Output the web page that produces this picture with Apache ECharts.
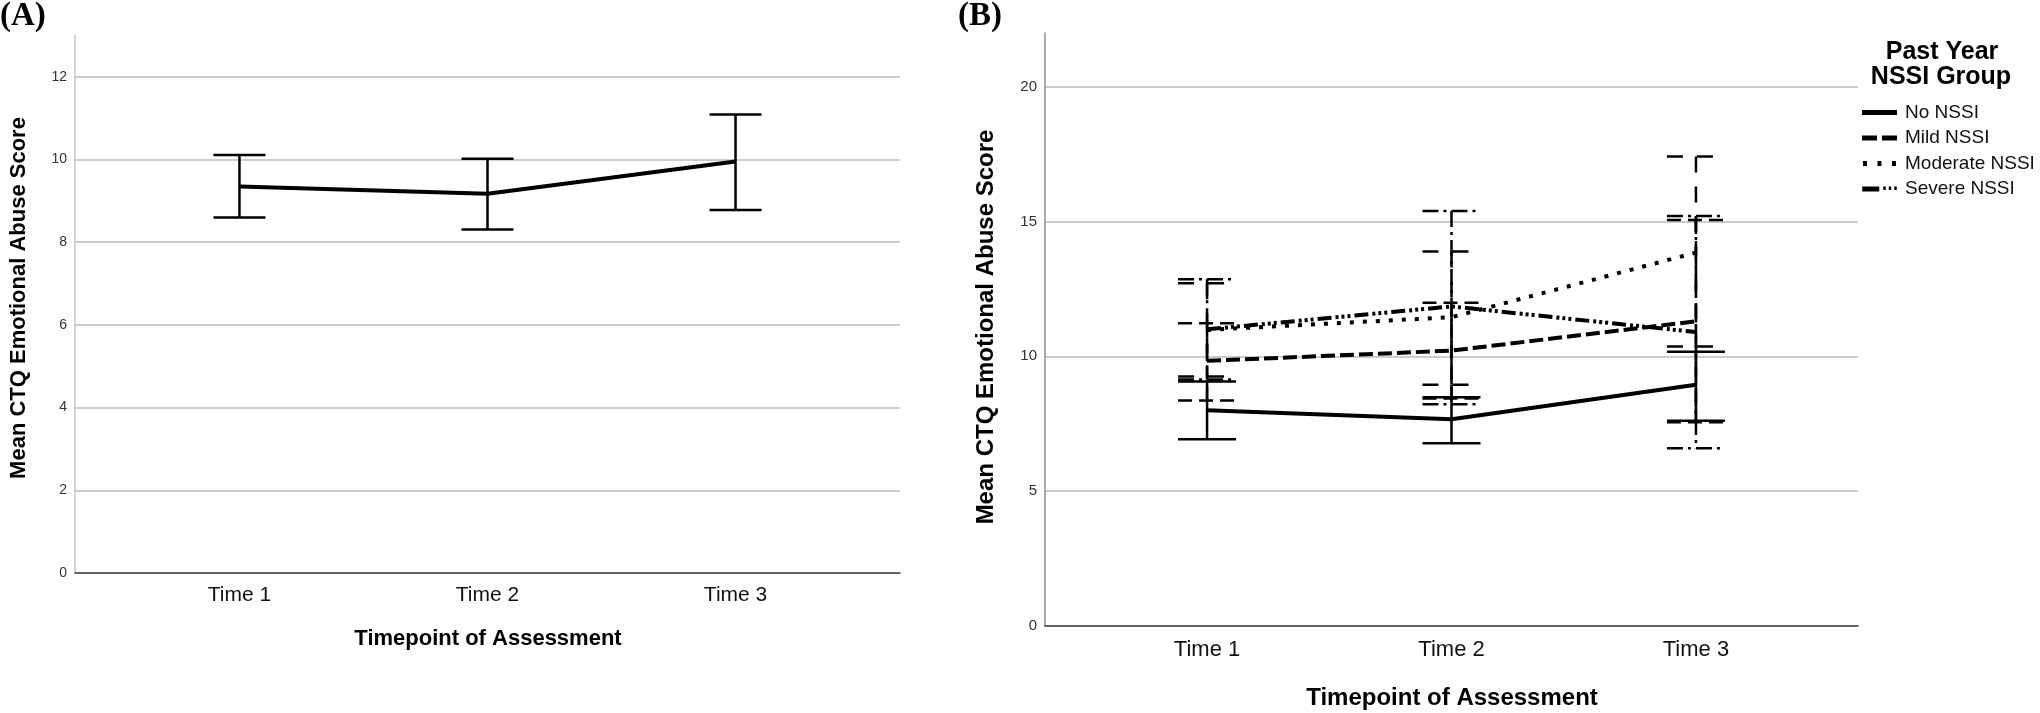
<!DOCTYPE html>
<html>
<head>
<meta charset="utf-8">
<script src="https://cdn.jsdelivr.net/npm/echarts@6/dist/echarts.min.js"></script>
<style>html,body{margin:0;padding:0;background:#fff}#c{width:2040px;height:713px}</style>
</head>
<body>
<div id="c"></div>
<script>
// ---- data ----
const timeLabels = ['Time 1', 'Time 2', 'Time 3'];
const timeX = [1, 2, 3];
const aYTicks = [0, 2, 4, 6, 8, 10, 12];
const bYTicks = [0, 5, 10, 15, 20];

// Panel A: overall mean and CI
const aMean = [9.35, 9.17, 9.95];
const aLow = [8.60, 8.31, 8.78];
const aHigh = [10.11, 10.02, 11.09];

// Panel B: by Past Year NSSI Group
const groups = ['No NSSI', 'Mild NSSI', 'Moderate NSSI', 'Severe NSSI'];
const noMean = [8.00, 7.66, 8.94];
const noLow = [6.92, 6.77, 7.61];
const noHigh = [9.06, 8.48, 10.17];
const mildMean = [9.83, 10.21, 11.30];
const mildLow = [8.36, 8.43, 7.55];
const mildHigh = [11.23, 11.99, 15.06];
const modMean = [10.98, 11.45, 13.85];
const modLow = [9.25, 8.94, 10.36];
const modHigh = [12.71, 13.89, 17.42];
const sevMean = [11.00, 11.85, 10.90];
const sevLow = [9.14, 8.22, 6.59];
const sevHigh = [12.86, 15.39, 15.21];

// ---- styles ----
const FONT = "'Liberation Sans', Arial, sans-serif";
const lineDash = {
  'No NSSI': 'solid',
  'Mild NSSI': [14, 5],
  'Moderate NSSI': [4, 9],
  'Severe NSSI': [14, 4, 3, 3, 3, 3, 3, 4]
};
const barDash = {
  'No NSSI': null,
  'Mild NSSI': [14, 7],
  'Moderate NSSI': [16, 14],
  'Severe NSSI': [16, 5, 3, 5]
};
const legendIcons = {
  'No NSSI': 'path://M0,0h35v5h-35z',
  'Mild NSSI': 'path://M0,0h15v5h-15zM20,0h15v5h-15z',
  'Moderate NSSI': 'path://M1,0h4v5h-4zM15.5,0h4v5h-4zM30,0h4v5h-4z',
  'Severe NSSI': 'path://M0,0h17v5h-17zM21,0h2.5v3.5h-2.5zM26.5,0h2.5v3.5h-2.5zM32,0h2.5v3.5h-2.5z'
};

function errRender(dash, width, capHalf) {
  return function (params, api) {
    const x = api.value(0), lo = api.value(1), hi = api.value(2);
    const pLo = api.coord([x, lo]);
    const pHi = api.coord([x, hi]);
    const style = { stroke: '#000', lineWidth: width, fill: null, lineDash: dash || null };
    return {
      type: 'group',
      children: [
        { type: 'line', shape: { x1: pLo[0], y1: pHi[1], x2: pLo[0], y2: pLo[1] }, style: style },
        { type: 'line', shape: { x1: pHi[0] - capHalf, y1: pHi[1], x2: pHi[0] + capHalf, y2: pHi[1] }, style: style },
        { type: 'line', shape: { x1: pLo[0] - capHalf, y1: pLo[1], x2: pLo[0] + capHalf, y2: pLo[1] }, style: style }
      ]
    };
  };
}

function pairs(vals) { return timeX.map((x, i) => [x, vals[i]]); }
function triples(lo, hi) { return timeX.map((x, i) => [x, lo[i], hi[i]]); }

function xAxisCfg(gridIndex, fontSize, margin) {
  return {
    type: 'value', gridIndex: gridIndex, min: 0.337, max: 3.663,
    axisLine: { show: true, onZero: false, lineStyle: { color: '#333', width: 1.5 } },
    axisTick: { show: false },
    splitLine: { show: false },
    axisLabel: {
      customValues: timeX, margin: margin,
      formatter: v => timeLabels[Math.round(v) - 1] || '',
      fontSize: fontSize, fontFamily: FONT, color: '#111'
    }
  };
}
function yAxisCfg(gridIndex, max, interval, ticks, fontSize, axisColor) {
  return {
    type: 'value', gridIndex: gridIndex, min: 0, max: max, interval: interval,
    axisLine: { show: true, onZero: false, lineStyle: { color: axisColor, width: 1.5 } },
    axisTick: { show: false },
    splitLine: { show: true, showMaxLine: false, showMinLine: false, lineStyle: { color: '#bdbdbd', width: 1.5 } },
    axisLabel: { customValues: ticks, showMaxLabel: true, margin: 8, fontSize: fontSize, fontFamily: FONT, color: '#333' }
  };
}

const groupData = [
  [noMean, noLow, noHigh],
  [mildMean, mildLow, mildHigh],
  [modMean, modLow, modHigh],
  [sevMean, sevLow, sevHigh]
];

const series = [];
// Panel A
series.push({
  type: 'custom', name: 'A CI', xAxisIndex: 0, yAxisIndex: 0,
  renderItem: errRender(null, 2.5, 26), encode: { x: 0, y: [1, 2] },
  data: triples(aLow, aHigh), z: 3, silent: true
});
series.push({
  type: 'line', name: 'A Mean', xAxisIndex: 0, yAxisIndex: 0,
  data: pairs(aMean), symbol: 'none', lineStyle: { color: '#000', width: 4 }, z: 4, silent: true
});
// Panel B
groups.forEach((g, k) => {
  const d = groupData[k];
  series.push({
    type: 'custom', name: g + ' CI', xAxisIndex: 1, yAxisIndex: 1,
    renderItem: errRender(barDash[g], 2.5, 29), encode: { x: 0, y: [1, 2] },
    data: triples(d[1], d[2]), z: 3, silent: true
  });
  series.push({
    type: 'line', name: g, xAxisIndex: 1, yAxisIndex: 1,
    data: pairs(d[0]), symbol: 'none', showSymbol: false,
    lineStyle: { color: '#000', width: 4, type: lineDash[g], cap: 'butt' },
    itemStyle: { color: '#000' }, z: 4, silent: true
  });
});

const chart = echarts.init(document.getElementById('c'), null, { renderer: 'canvas' });
chart.setOption({
  animation: false,
  backgroundColor: '#fff',
  grid: [
    { left: 75, top: 35.5, width: 825, height: 537.5 },
    { left: 1045, top: 33, width: 813, height: 592.7 }
  ],
  xAxis: [xAxisCfg(0, 21, 12), xAxisCfg(1, 22, 13)],
  yAxis: [
    yAxisCfg(0, 13, 2, aYTicks, 14, '#c4c4c4'),
    yAxisCfg(1, 22, 5, bYTicks, 15, '#8f8f8f')
  ],
  legend: {
    data: groups.map(g => ({ name: g, icon: legendIcons[g] })),
    orient: 'vertical', left: 1862, top: 103, padding: 0,
    itemWidth: 35, itemHeight: 5, itemGap: 6.5, selectedMode: false,
    itemStyle: { color: '#000', borderWidth: 0 },
    textStyle: { fontSize: 19, fontFamily: FONT, color: '#111', padding: [0, 0, 0, 3] }
  },
  graphic: [
    { type: 'text', left: 0, top: 0, style: { text: '(A)', font: "bold 33px 'Liberation Serif', 'Times New Roman', serif", fill: '#000' } },
    { type: 'text', left: 958, top: 0, style: { text: '(B)', font: "bold 33px 'Liberation Serif', 'Times New Roman', serif", fill: '#000' } },
    { type: 'text', x: 18.5, y: 298, rotation: Math.PI / 2,
      style: { text: 'Mean CTQ Emotional Abuse Score', font: "bold 22px " + FONT, fill: '#000', textAlign: 'center', textVerticalAlign: 'middle', align: 'center', verticalAlign: 'middle' } },
    { type: 'text', x: 488, y: 639,
      style: { text: 'Timepoint of Assessment', font: "bold 22px " + FONT, fill: '#000', textAlign: 'center', textVerticalAlign: 'middle', align: 'center', verticalAlign: 'middle' } },
    { type: 'text', x: 986, y: 327, rotation: Math.PI / 2,
      style: { text: 'Mean CTQ Emotional Abuse Score', font: "bold 24px " + FONT, fill: '#000', textAlign: 'center', textVerticalAlign: 'middle', align: 'center', verticalAlign: 'middle' } },
    { type: 'text', x: 1452, y: 698,
      style: { text: 'Timepoint of Assessment', font: "bold 24px " + FONT, fill: '#000', textAlign: 'center', textVerticalAlign: 'middle', align: 'center', verticalAlign: 'middle' } },
    { type: 'text', x: 1942, y: 52,
      style: { text: 'Past Year', font: "bold 25px " + FONT, fill: '#000', textAlign: 'center', textVerticalAlign: 'middle', align: 'center', verticalAlign: 'middle' } },
    { type: 'text', x: 1941, y: 77,
      style: { text: 'NSSI Group', font: "bold 25px " + FONT, fill: '#000', textAlign: 'center', textVerticalAlign: 'middle', align: 'center', verticalAlign: 'middle' } }
  ],
  series: series
});
</script>
</body>
</html>
